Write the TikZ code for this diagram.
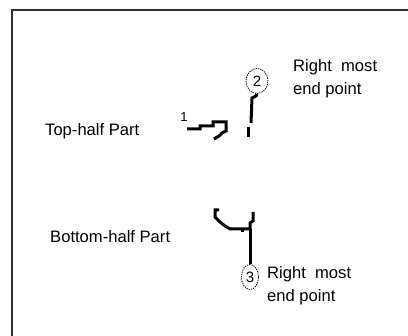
\documentclass[tikz,border=0pt]{standalone}
\usepackage{fontspec}
\setmainfont{Liberation Sans}
\usepackage{xcolor}
\usepackage{tikz}
\usetikzlibrary{
		calc,
		positioning,
		shapes.geometric
	}
\definecolor{frame-gray}{HTML}{303030}
\tikzset{%
		every text node part/.style = {
			align = left
		},
		label/.style = {
			inner sep = 0pt,
			anchor = west,
			font = \fontsize{16.6}{23}\selectfont
		},
		pointmark/.style = {
			draw,
			ellipse,
			dash pattern = on 1.3pt off 1pt,
			line width = 0.8pt,
			inner sep = 0pt,
			font = \fontsize{15}{15}\selectfont
		},
		stroke/.style = {
			line width = 3pt,
			line join = miter,
			black
		}
	}

\begin{document}
\begin{tikzpicture}[x = 1pt, y = -1pt]
		\useasboundingbox (0, 0) rectangle (408, 336);
		\clip (0, 0) rectangle (408, 336);
		\draw [frame-gray, line width = 1.4pt] (12, 10) rectangle (420, 350);

		% texts
		\node [label] (tophalf) at (45, 131) {Top-half Part};
		\node [label] (bothalf) at (50, 237) {Bottom-half Part};
		\node [label] (topend) at (293, 79) {Right\ \ most\\end point};
		\node [label] (botend) at (267, 286) {Right\ \ most\\end point};
		\node [inner sep = 0pt, font = \fontsize{13}{13}\selectfont] (one) at (184, 117) {1};

		% numbered end points
		\node [pointmark, minimum width = 22pt, minimum height = 25pt] (two) at (257, 81) {2};
		\node [pointmark, minimum width = 17pt, minimum height = 25pt] (three) at (250, 277) {3};

		% top-half strokes
		\draw [stroke] (187, 129) -- (200, 129) -- (200, 126) -- (213, 126) -- (213, 122)
			-- (226, 122) -- (226, 131) -- (222, 133) -- (219, 136) -- (214, 139);
		\draw [stroke] (two.south) -- (256, 96) -- (252, 98) -- (251, 123);
		\draw [stroke] (248, 127) -- (248, 137);

		% bottom-half strokes
		\draw [stroke] (219, 210) -- (215, 210) -- (215, 217) -- (220, 222) -- (225, 226)
			-- (230, 229) -- (250, 229) -- (250, 223) -- (253, 221) -- (253, 212);
		\draw [stroke] (242, 229) -- (242, 232);
		\draw [stroke] (250, 229) -- (three.north);
	\end{tikzpicture}
\end{document}
